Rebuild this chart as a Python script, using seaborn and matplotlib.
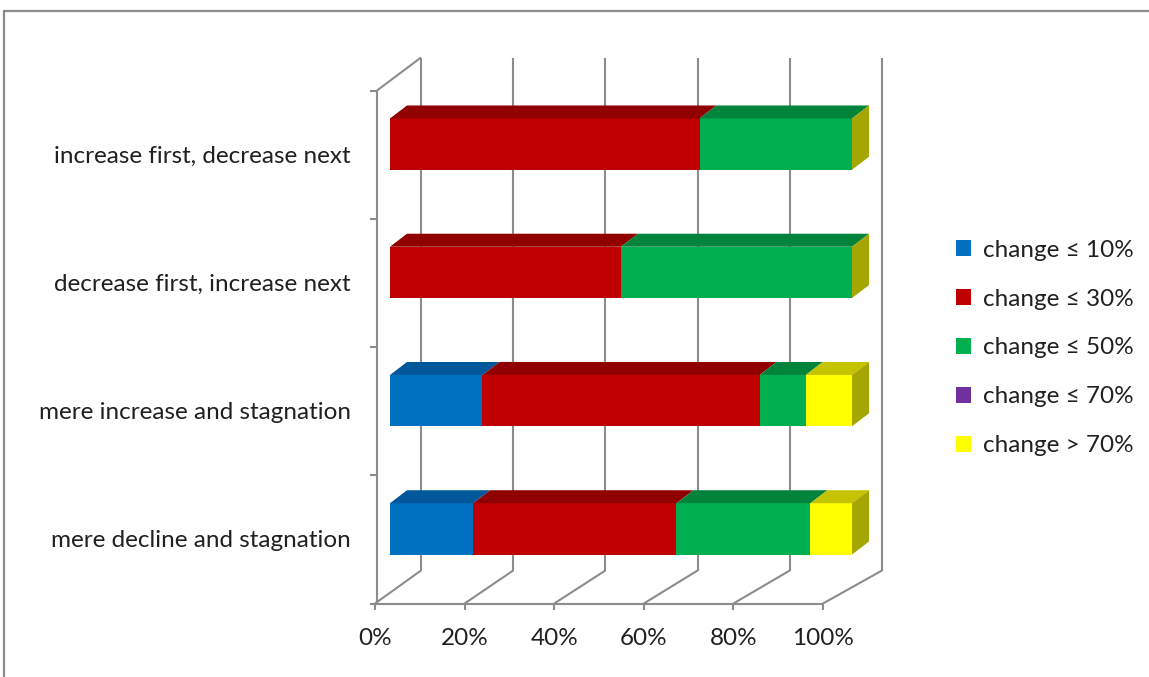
import numpy as np
import matplotlib
matplotlib.use("Agg")
import matplotlib.pyplot as plt
from matplotlib.patches import Polygon, Patch
from matplotlib.lines import Line2D
import seaborn as sns

# ---- data (percent of cases per change class) ----
categories = [
    "increase first, decrease next",
    "decrease first, increase next",
    "mere increase and stagnation",
    "mere decline and stagnation",
]
series = ["change \u2264 10%", "change \u2264 30%", "change \u2264 50%",
          "change \u2264 70%", "change > 70%"]
change_le10 = [0, 0, 20, 18]
change_le30 = [67, 50, 60, 44]
change_le50 = [33, 50, 10, 29]
change_le70 = [0, 0, 0, 0]
change_gt70 = [0, 0, 10, 9]
xticks = [0, 20, 40, 60, 80, 100]
xtick_labels = ["0%", "20%", "40%", "60%", "80%", "100%"]

# ---- styling ----
face_colors = ["#0070C0", "#C00000", "#00B050", "#7030A0", "#FFFF00"]
top_colors = ["#00589A", "#900000", "#00843C", "#56257C", "#C4C400"]
side_color = "#A6A600"
wall_color = "#8C8C8C"
text_color = "#202020"
font = ["Lato", "DejaVu Sans"]
fs = 17.5

sns.set_style("white")
plt.rcParams["font.family"] = font

W, H = 1149, 677
fig = plt.figure(figsize=(W / 100, H / 100), dpi=100)
ax = fig.add_axes([390 / W, (H - 593) / H, 462 / W, 513 / H])

vals = np.array([change_le10, change_le30, change_le50, change_le70, change_gt70], float)
cum = np.cumsum(vals, axis=0)
left = np.vstack([np.zeros(len(categories)), cum[:-1]])

# front faces: cumulative bars, drawn from the longest to the shortest
for k in reversed(range(len(series))):
    sns.barplot(x=cum[k], y=categories, order=categories, orient="h",
                color=face_colors[k], saturation=1, width=0.4, linewidth=0,
                errorbar=None, ax=ax, zorder=3)

ax.set_xlim(0, 100)
ax.set_ylim(3.5, -0.5)
ax.axis("off")


def off(x, y, px, py):
    """Shift a data point by a pixel offset (right / up)."""
    X, Y = ax.transData.transform((x, y))
    return ax.transData.inverted().transform((X + px, Y + py))


# the box is drawn in perspective: the front plane is slightly narrower
FRONT_SCALE = 448 / 462
FRONT = (-15, -10.5)
BACK_SCALE = 461 / 462
BACK = (31, 22.5)
DEPTH = (17, 13)       # bar depth


def front(t, y, px=0, py=0):
    return off(t * FRONT_SCALE, y, FRONT[0] + px, FRONT[1] + py)


def back(t, y):
    return off(t * BACK_SCALE, y, *BACK)


def seg(p, q):
    ax.add_line(Line2D([p[0], q[0]], [p[1], q[1]], color=wall_color, lw=1.5,
                       clip_on=False, zorder=1, solid_capstyle="butt"))


ytop, ybot = -0.5, 3.5
# back wall gridlines and floor
for t in xticks:
    seg(back(t, ytop), back(t, ybot))
    seg(front(t, ybot), back(t, ybot))
    seg(front(t, ybot), front(t, ybot, 0, -6))
seg(front(0, ybot), front(100, ybot))
# left wall
seg(front(0, ytop, 2), front(0, ybot, 2))
seg(front(0, ytop, 2), back(0, ytop))
for yb in np.arange(-0.5, 3.6, 1.0):
    seg(front(0, yb, 2), front(0, yb, -5))

# top faces and end faces of the bars
half = 0.2
for i in range(len(categories)):
    yt = i - half
    yb = i + half
    for k in range(len(series)):
        x0, x1 = left[k, i], cum[k, i]
        if x1 - x0 <= 0:
            continue
        pts = [off(x0, yt, 0, 0), off(x1, yt, 0, 0),
               off(x1, yt, *DEPTH), off(x0, yt, *DEPTH)]
        ax.add_patch(Polygon(pts, closed=True, facecolor=top_colors[k],
                             edgecolor="none", clip_on=False, zorder=3))
    xe = cum[-1, i]
    pts = [off(xe, yt, 0, 0), off(xe, yb, 0, 0),
           off(xe, yb, *DEPTH), off(xe, yt, *DEPTH)]
    ax.add_patch(Polygon(pts, closed=True, facecolor=side_color,
                         edgecolor="none", clip_on=False, zorder=3))

# category labels
for i, c in enumerate(categories):
    p = front(0, i, -24, -1.5)
    ax.text(p[0], p[1], c, ha="right", va="center", fontsize=fs,
            color=text_color, clip_on=False)

# value axis labels
for t, lab in zip(xticks, xtick_labels):
    p = front(t, ybot, 0, -35)
    ax.text(p[0], p[1], lab, ha="center", va="center", fontsize=fs,
            color=text_color, clip_on=False)

# legend
handles = [Patch(facecolor=c, edgecolor="none") for c in face_colors]
fig.legend(handles, series, loc="center left", bbox_to_anchor=(956 / W, 1 - 348 / H),
           frameon=False, fontsize=fs, handlelength=0.62, handleheight=0.62,
           handletextpad=0.5, labelspacing=1.15, borderpad=0, borderaxespad=0,
           labelcolor=text_color)

# outer chart frame (left and top edges)
fig.add_artist(Line2D([4 / W, 4 / W], [0, 1 - 11 / H], color="#8C8C8C", lw=1.6,
                      transform=fig.transFigure))
fig.add_artist(Line2D([4 / W, 1], [1 - 11 / H, 1 - 11 / H], color="#8C8C8C", lw=1.6,
                      transform=fig.transFigure))

fig.savefig("out.png", dpi=100)
